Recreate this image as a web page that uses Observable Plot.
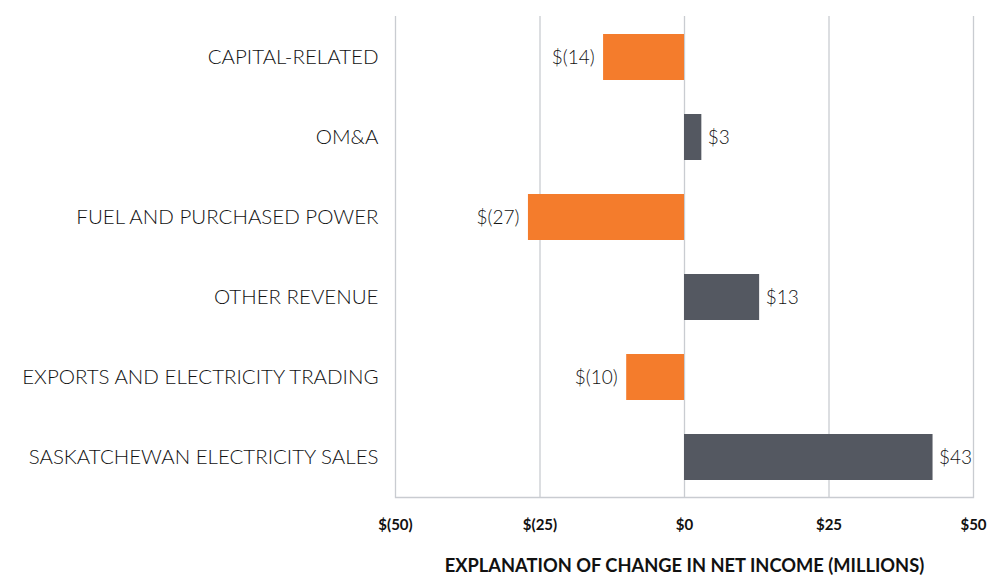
<!DOCTYPE html>
<html>
<head>
<meta charset="utf-8">
<script src="https://cdn.jsdelivr.net/npm/d3@7"></script>
<script src="https://cdn.jsdelivr.net/npm/@observablehq/plot@0.6"></script>
<style>
  html, body { margin: 0; padding: 0; background: #fff; }
  #chart svg { display: block; }
</style>
</head>
<body>
<div id="chart"></div>
<script>
const categories = [
  "CAPITAL-RELATED",
  "OM&A",
  "FUEL AND PURCHASED POWER",
  "OTHER REVENUE",
  "EXPORTS AND ELECTRICITY TRADING",
  "SASKATCHEWAN ELECTRICITY SALES"
];
const values = [-14, 3, -27, 13, -10, 43];
const xTicks = [-50, -25, 0, 25, 50];
const title = "EXPLANATION OF CHANGE IN NET INCOME (MILLIONS)";

const data = categories.map((c, i) => ({category: c, value: values[i]}));
const money = v => v < 0 ? `$(${-v})` : `$${v}`;
const font = "Lato, 'Open Sans', sans-serif";

const chart = Plot.plot({
  width: 987,
  height: 579,
  marginTop: 16,
  marginBottom: 82,
  marginLeft: 395,
  marginRight: 14,
  style: {fontFamily: font, background: "#fff", color: "#111"},
  x: {domain: [-50, 50], ticks: xTicks},
  y: {domain: categories, paddingInner: 0.425, paddingOuter: 0.2},
  marks: [
    Plot.ruleX(xTicks, {stroke: "#c9ccd1", strokeWidth: 1.3}),
    Plot.frame({anchor: "bottom", stroke: "#c9ccd1", strokeWidth: 1.3}),
    Plot.barX(data, {
      y: "category",
      x: "value",
      fill: d => d.value < 0 ? "#f47c2c" : "#545861"
    }),
    Plot.text(data.filter(d => d.value < 0), {
      y: "category", x: "value", text: d => money(d.value),
      textAnchor: "end", dx: -9, fontSize: 19, fontWeight: 300, fill: "#111"
    }),
    Plot.text(data.filter(d => d.value >= 0), {
      y: "category", x: "value", text: d => money(d.value),
      textAnchor: "start", dx: 6, fontSize: 19, fontWeight: 300, fill: "#111"
    }),
    Plot.axisX({
      ticks: xTicks, tickSize: 0, tickPadding: 22,
      tickFormat: money, fontSize: 15, fontWeight: "bold", label: null, fill: "#111"
    }),
    Plot.axisY({
      tickSize: 0, tickPadding: 17, fontSize: 20.5, fontWeight: 300, label: null, fill: "#111"
    }),
    Plot.text([title], {
      frameAnchor: "bottom", dy: 74, fontSize: 18.3, fontWeight: "bold", fill: "#111"
    })
  ]
});
document.getElementById("chart").appendChild(chart);
</script>
</body>
</html>
